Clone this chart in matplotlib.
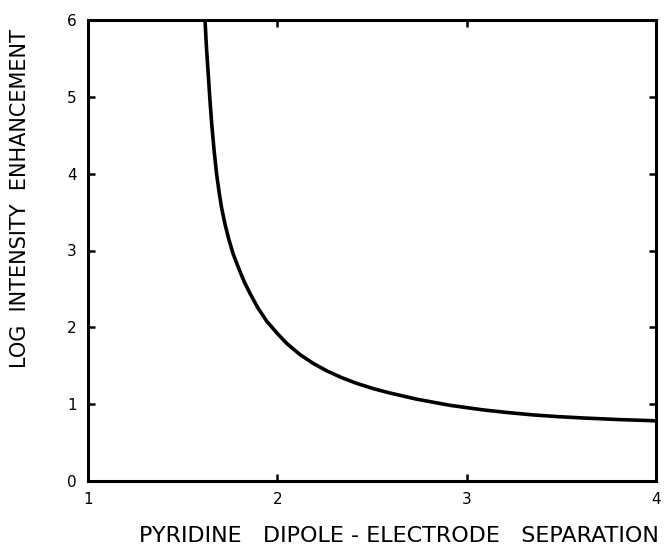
import numpy as np
import matplotlib
matplotlib.use("Agg")
import matplotlib.pyplot as plt

sep = [1.618, 1.626, 1.635, 1.644, 1.653, 1.666, 1.680, 1.693, 1.706, 1.723,
       1.741, 1.766, 1.794, 1.824, 1.856, 1.898, 1.944, 2.00, 2.05, 2.12,
       2.19, 2.26, 2.34, 2.42, 2.51, 2.595, 2.736, 2.912, 3.088, 3.22,
       3.352, 3.48, 3.617, 3.80, 3.969, 4.0]
log_enh = [6.0, 5.63, 5.30, 4.96, 4.66, 4.30, 3.98, 3.75, 3.55, 3.35,
           3.17, 2.96, 2.78, 2.60, 2.44, 2.25, 2.08, 1.92, 1.79, 1.645,
           1.53, 1.435, 1.345, 1.27, 1.20, 1.145, 1.065, 0.985, 0.925, 0.89,
           0.86, 0.838, 0.82, 0.80, 0.786, 0.783]

xticks = [1, 2, 3, 4]
yticks = [0, 1, 2, 3, 4, 5, 6]

W, H = 664, 556
fig = plt.figure(figsize=(W / 100, H / 100), dpi=100)
ax = fig.add_axes([88 / W, 1 - 481 / H, (656 - 88) / W, (481 - 20) / H])

ax.plot(sep, log_enh, color="black", lw=2.6, solid_capstyle="butt",
        solid_joinstyle="round")

ax.set_xlim(1, 4)
ax.set_ylim(0, 6)
ax.set_xticks(xticks)
ax.set_yticks(yticks)
for s in ax.spines.values():
    s.set_linewidth(2.2)
ax.tick_params(direction="in", length=5, width=1.8, top=True, right=True,
               labelsize=11, pad=8)

fig.text(659 / W, 1 - 536 / H, "PYRIDINE   DIPOLE - ELECTRODE   SEPARATION",
         fontsize=16, ha="right", va="center")
fig.text(20 / W, 1 - 199 / H, "LOG  INTENSITY  ENHANCEMENT", fontsize=15,
         rotation=90, ha="center", va="center")

plt.savefig("out.png", dpi=100)
